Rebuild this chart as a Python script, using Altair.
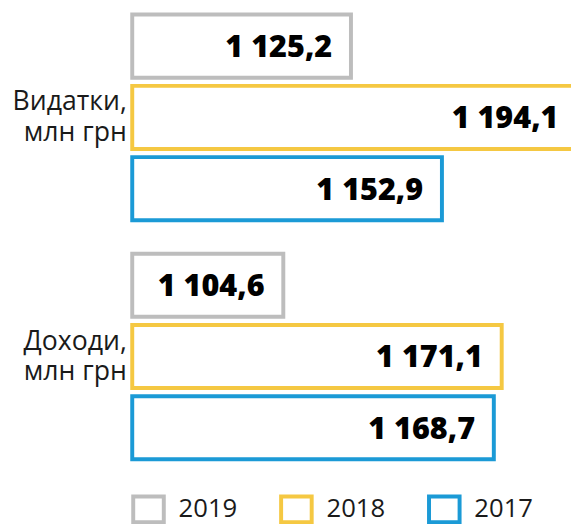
import altair as alt
import pandas as pd

# ---- data ----
categories = ["Видатки,|млн грн", "Доходи,|млн грн"]
years = ["2019", "2018", "2017"]
spending = [1125.2, 1194.1, 1152.9]
income = [1104.6, 1171.1, 1168.7]
colors = ["#bdbdbd", "#f5c842", "#1b9ad6"]

# axis baseline of the original (bars start here, axis is not zero-based)
X_BASE = 1058.6
X_MIN = 1057.4
X_MAX = 1192.2


def fmt(v):
    return f"{v:,.1f}".replace(",", " ").replace(".", ",")


rows = []
for cat, vals in zip(categories, [spending, income]):
    for yr, v in zip(years, vals):
        rows.append({"cat": cat, "year": yr, "value": v, "label": fmt(v)})
df = pd.DataFrame(rows)

FONT = "Open Sans"

y_enc = alt.Y(
    "cat:N",
    sort=categories,
    scale=alt.Scale(domain=categories, paddingInner=0.14, paddingOuter=0),
    axis=alt.Axis(
        title=None,
        domain=False,
        ticks=False,
        tickSize=0,
        labelPadding=2,
        labelFontSize=27,
        labelFont=FONT,
        labelColor="#1a1a1a",
        labelExpr="split(datum.label, '|')",
        labelLineHeight=31,
        labelOffset=-15,
        labelAlign="right",
        labelBaseline="middle",
        labelLimit=200,
        grid=False,
    ),
)
yoff_enc = alt.YOffset(
    "year:N", scale=alt.Scale(domain=years, paddingInner=0.115, paddingOuter=0)
)
x_enc = alt.X(
    "value:Q",
    scale=alt.Scale(domain=[X_MIN, X_MAX], zero=False, nice=False),
    axis=None,
)

base = alt.Chart(df)

bars = base.mark_bar(fill="white", strokeWidth=4).encode(
    x=x_enc,
    x2=alt.datum(X_BASE),
    y=y_enc,
    yOffset=yoff_enc,
    stroke=alt.Stroke(
        "year:N",
        scale=alt.Scale(domain=years, range=colors),
        legend=alt.Legend(
            title=None,
            orient="none",
            legendX=3,
            legendY=484,
            direction="horizontal",
            symbolType="M-1,-0.84L1,-0.84L1,0.84L-1,0.84Z",
            symbolSize=961,
            symbolStrokeWidth=4,
            symbolFillColor="white",
            labelFontSize=26,
            labelFont=FONT,
            labelColor="#1a1a1a",
            labelOffset=13,
            columnPadding=36,
            padding=0,
        ),
    ),
)

texts = base.mark_text(
    align="right",
    baseline="middle",
    dx=-19,
    dy=2,
    font=FONT,
    fontSize=31,
    fontWeight=800,
    color="black",
).encode(
    x=x_enc,
    y=y_enc,
    yOffset=yoff_enc,
    text="label:N",
)

chart = (
    alt.layer(bars, texts)
    .properties(
        width=449,
        height=451,
        autosize=alt.AutoSizeParams(type="none"),
        padding={"left": 122, "top": 3, "right": 0, "bottom": 65},
        background="white",
    )
    .configure_view(stroke=None)
)

chart.save("out.html", embed_options={"renderer": "svg", "actions": False})
